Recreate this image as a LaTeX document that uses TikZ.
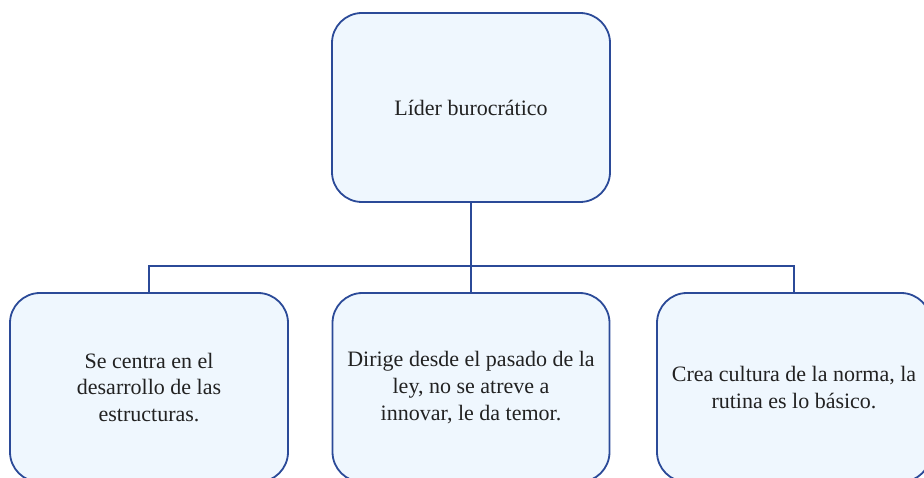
\documentclass[tikz,border=0pt]{standalone}
\usepackage{fontspec}
\setmainfont{Liberation Serif}
\definecolor{boxline}{RGB}{43,74,152}
\definecolor{boxfill}{RGB}{239,247,254}
\definecolor{txt}{RGB}{34,34,34}
\begin{document}
\begin{tikzpicture}[x=1pt,y=-1pt,
  card/.style={rectangle, rounded corners=30pt, draw=boxline, fill=boxfill,
    line width=1.8pt, minimum height=189pt, align=center, text=txt,
    font=\fontsize{22}{26.7}\selectfont, inner sep=0pt},
  link/.style={draw=boxline, line width=1.8pt}]
\useasboundingbox (0,0) rectangle (924,478);
\node[card, minimum width=278pt] (top) at (471,107.5) {Líder burocrático};
\node[card, minimum width=278pt] (l) at (149,387.5) {Se centra en el\\desarrollo de las\\estructuras.};
\node[card, minimum width=277pt] (m) at (471,387.5) {Dirige desde el pasado de la\\ley, no se atreve a\\innovar, le da temor.};
\node[card, minimum width=274pt] (r) at (794,387.5) {Crea cultura de la norma, la\\rutina es lo básico.};
\coordinate (bus) at (0,266);
\draw[link] (top.south) -- (m.north);
\draw[link] (l.north) -- (l.north |- bus) -- (r.north |- bus) -- (r.north);
\end{tikzpicture}
\end{document}
